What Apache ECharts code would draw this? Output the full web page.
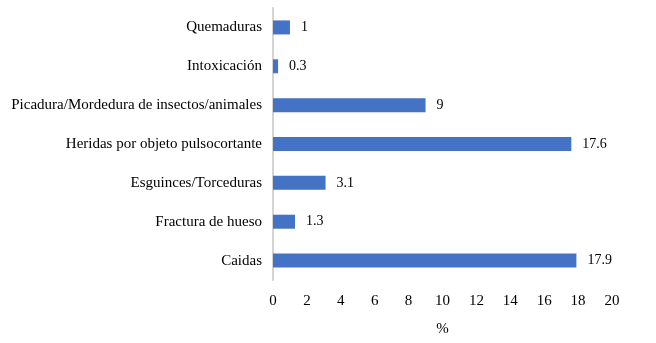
<!DOCTYPE html>
<html>
<head>
<meta charset="utf-8">
<script src="https://cdn.jsdelivr.net/npm/echarts@6/dist/echarts.min.js"></script>
<style>
  html, body { margin: 0; padding: 0; background: #fff; }
  #chart { width: 656px; height: 343px; }
</style>
</head>
<body>
<div id="chart"></div>
<script>
// categories bottom to top, as the y axis draws them
const categories = ['Caidas', 'Fractura de hueso', 'Esguinces/Torceduras',
  'Heridas por objeto pulsocortante', 'Picadura/Mordedura de insectos/animales',
  'Intoxicación', 'Quemaduras'];
const values = [17.9, 1.3, 3.1, 17.6, 9, 0.3, 1];
const xTicks = [0, 20, 2];  // min, max, interval

const font = '"Liberation Serif", "Times New Roman", serif';
const myChart = echarts.init(document.getElementById('chart'));
const option = {
  animation: false,
  textStyle: { fontFamily: font },
  grid: { left: 273, right: 44, top: 8, bottom: 63 },
  xAxis: {
    type: 'value',
    min: xTicks[0],
    max: xTicks[1],
    interval: xTicks[2],
    name: '%',
    nameLocation: 'middle',
    nameGap: 42,
    nameTextStyle: { fontFamily: font, fontSize: 15, color: '#000' },
    axisLine: { show: false },
    axisTick: { show: false },
    splitLine: { show: false },
    axisLabel: { fontFamily: font, fontSize: 15, color: '#000', margin: 14 }
  },
  yAxis: {
    type: 'category',
    data: categories,
    axisLine: { show: true, lineStyle: { color: '#d4d4d4', width: 2 } },
    axisTick: { show: false },
    axisLabel: { fontFamily: font, fontSize: 15, color: '#000', margin: 11 }
  },
  series: [{
    type: 'bar',
    data: values,
    barWidth: 14,
    itemStyle: { color: '#4472C4' },
    label: {
      show: true,
      position: 'right',
      distance: 11,
      fontFamily: font,
      fontSize: 14,
      color: '#000'
    }
  }]
};
option && myChart.setOption(option);
</script>
</body>
</html>
